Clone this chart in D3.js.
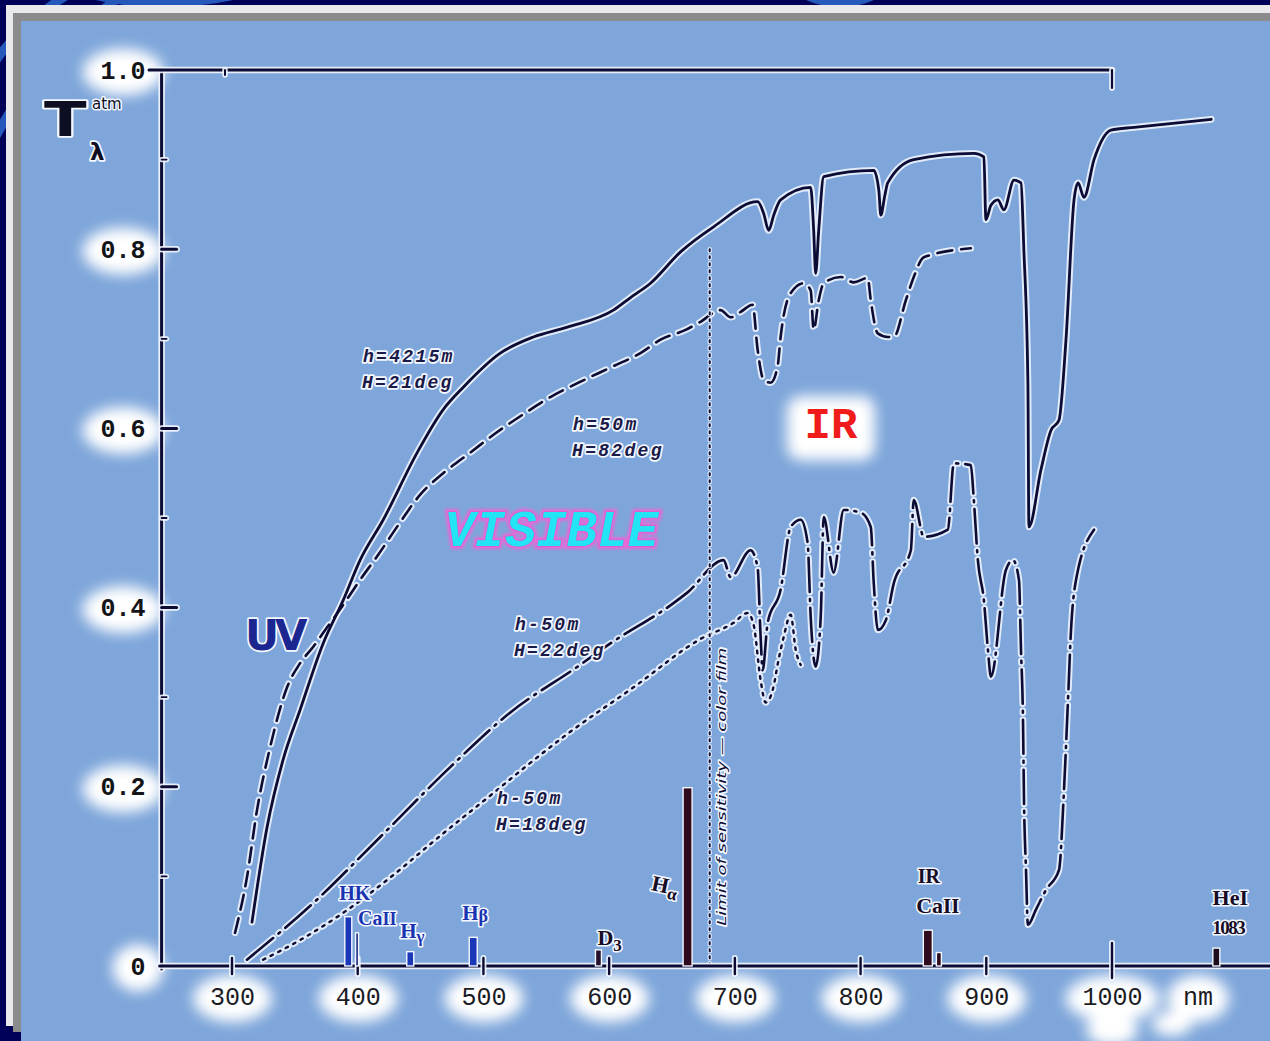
<!DOCTYPE html>
<html>
<head>
<meta charset="utf-8">
<script src="https://cdn.jsdelivr.net/npm/d3@7/dist/d3.min.js"></script>
<style>
html, body { margin: 0; padding: 0; background: #000058; overflow: hidden; }
svg { display: block; }
</style>
</head>
<body>
<svg id="chart" width="1270" height="1041"></svg>
<script>
// ---- Axis ticks ----
const xTicks = [300, 400, 500, 600, 700, 800, 900, 1000];
const yTicks = [0, 0.2, 0.4, 0.6, 0.8, 1.0];
const yTickLabels = ["0", "0.2", "0.4", "0.6", "0.8", "1.0"];
const yMinorTicks = [0.1, 0.3, 0.5, 0.7, 0.9];

// ---- Atmospheric transmission, [wavelength nm, T] ----
// h=4215m, H=21deg (solid)
const trHigh21 = [[315.9,0.049],[327.9,0.155],[340.6,0.230],[354.2,0.286],[372.5,0.360],[388.4,0.408],[401.9,0.453],[420.3,0.498],[447.3,0.573],[468.0,0.621],[484.0,0.646],[513.4,0.684],[539.7,0.702],[566.8,0.713],[603.4,0.732],[617.0,0.746],[632.9,0.762],[656.8,0.797],[683.1,0.825],[718.1,0.853],[722.9,0.840],[726.9,0.821],[730.9,0.838],[736.4,0.855],[760.3,0.869],[762.7,0.821],[764.3,0.773],[766.7,0.821],[770.7,0.881],[810.5,0.888],[814.5,0.866],[816.1,0.838],[819.3,0.860],[821.6,0.874],[842.3,0.900],[890.1,0.907],[898.1,0.903],[899.7,0.833],[903.7,0.849],[909.2,0.855],[914.0,0.844],[922.0,0.877],[927.6,0.874],[929.9,0.799],[933.1,0.651],[933.9,0.490],[943.5,0.554],[951.5,0.598],[957.8,0.609],[963.4,0.699],[969.8,0.855],[973.0,0.874],[977.7,0.858],[985.7,0.900],[999.2,0.933],[1017.6,0.936],[1078.9,0.945]];
// h=50m, H=82deg (dashed)
const trLow82 = [[302.4,0.037],[311.9,0.099],[319.9,0.174],[330.3,0.244],[343.8,0.311],[354.2,0.338],[364.5,0.356],[375.7,0.378],[388.4,0.403],[401.9,0.431],[416.3,0.459],[432.2,0.492],[449.7,0.526],[468.0,0.550],[489.5,0.573],[511.0,0.596],[530.9,0.615],[553.3,0.635],[575.6,0.651],[602.6,0.669],[624.9,0.684],[640.9,0.699],[660.8,0.710],[672.7,0.719],[688.6,0.732],[696.6,0.724],[704.6,0.730],[714.1,0.738],[718.1,0.688],[722.9,0.654],[728.5,0.651],[734.0,0.669],[736.4,0.702],[744.4,0.751],[754.7,0.762],[760.3,0.754],[762.7,0.710],[766.7,0.743],[770.7,0.762],[784.2,0.769],[794.6,0.763],[805.7,0.768],[808.1,0.743],[813.7,0.706],[821.6,0.702],[826.4,0.702],[836.0,0.743],[842.3,0.769],[850.3,0.791],[887.7,0.801]];
// h=50m, H=22deg (dash-dot)
const trLow22 = [[311.9,0.007],[364.5,0.070],[417.9,0.144],[473.6,0.222],[521.4,0.283],[574.8,0.334],[601.0,0.360],[651.2,0.405],[662.4,0.417],[691.0,0.453],[696.6,0.434],[712.5,0.464],[718.1,0.445],[720.5,0.367],[722.1,0.330],[726.1,0.383],[736.4,0.420],[744.4,0.490],[752.4,0.498],[757.9,0.472],[760.3,0.390],[764.3,0.334],[768.3,0.390],[770.7,0.501],[778.6,0.439],[786.6,0.509],[800.1,0.506],[808.1,0.490],[810.5,0.427],[813.7,0.375],[820.1,0.386],[826.4,0.427],[840.0,0.464],[842.3,0.520],[850.3,0.479],[869.4,0.487],[874.2,0.561],[887.7,0.559],[890.1,0.520],[893.3,0.453],[898.1,0.408],[901.3,0.353],[903.7,0.323],[915.6,0.442],[921.2,0.453],[926.0,0.431],[927.6,0.353],[929.2,0.275],[930.0,0.185],[931.6,0.107],[933.1,0.046],[939.5,0.063],[947.5,0.085],[957.8,0.107],[961.8,0.196],[965.0,0.297],[967.4,0.375],[971.4,0.431],[985.7,0.487]];
// h=50m, H=18deg (dotted)
const trLow18 = [[324.7,0.007],[354.2,0.029],[386.0,0.057],[423.4,0.096],[468.0,0.148],[507.9,0.193],[534.9,0.224],[566.8,0.259],[619.4,0.311],[672.7,0.365],[699.0,0.383],[710.1,0.394],[714.9,0.381],[720.5,0.319],[724.5,0.294],[730.1,0.308],[734.8,0.342],[738.8,0.367],[744.4,0.392],[748.4,0.353],[752.4,0.336]];

const curveNames = [["h=4215m", "H=21deg"], ["h=50m", "H=82deg"], ["h-50m", "H=22deg"], ["h-50m", "H=18deg"]];

// ---- Spectral lines along the wavelength axis ----
const lineIds = ["K", "H", "Hγ", "Hβ", "D3", "Hα", "CaII 8542", "CaII 8662", "HeI"];
const lineNm = [392.5, 399.5, 441.8, 491.9, 591.5, 662.4, 853.5, 862.3, 1083];
const lineHeight = [0.055, 0.037, 0.016, 0.032, 0.018, 0.199, 0.040, 0.015, 0.020];

// Colour-film sensitivity limit
const filmLimitNm = 680;
const filmLimitTop = 0.80;

// ================= drawing =================
const W = 1270, H = 1041;
const svg = d3.select("#chart");
const x = d3.scaleLinear().domain([300, 1000]).range([232, 1112]);
const y = d3.scaleLinear().domain([0, 1]).range([966, 70]);
const axisStartNm = 244, axisEndNm = 1140, frameStartNm = 234;
const X0 = x(axisStartNm);

const INK = "#0b0b34";
const HALO = "#f3f7ff";

const defs = svg.append("defs");
defs.append("filter").attr("id", "glow")
  .attr("x", "-50%").attr("y", "-50%").attr("width", "200%").attr("height", "200%")
  .append("feGaussianBlur").attr("stdDeviation", 7);
defs.append("filter").attr("id", "pink")
  .attr("x", "-20%").attr("y", "-40%").attr("width", "140%").attr("height", "180%")
  .append("feGaussianBlur").attr("stdDeviation", 1.8);

// slide frame
svg.append("rect").attr("width", W).attr("height", H).attr("fill", "#000058");
const swirl = svg.append("g").attr("fill", "none").attr("stroke", "#2c68cc").attr("stroke-width", 9).attr("opacity", 0.85);
swirl.append("path").attr("d", "M-30,110 Q0,30 80,-12");
swirl.append("path").attr("d", "M-30,200 Q10,70 130,-10");
swirl.append("path").attr("d", "M90,-6 Q160,12 240,-6");
swirl.append("path").attr("d", "M800,-8 Q840,14 880,-8");
svg.append("rect").attr("x", 6).attr("y", 5).attr("width", W - 6).attr("height", 1021).attr("fill", "#e9e9eb");
svg.append("rect").attr("x", 13).attr("y", 13).attr("width", W - 13).attr("height", 1019).attr("fill", "#8b8b8e");
svg.append("rect").attr("x", 21).attr("y", 21).attr("width", W - 21).attr("height", H - 21).attr("fill", "#7ea6da");

const glowLayer = svg.append("g").attr("filter", "url(#glow)");
function addGlow(node, padX, padY) {
  const b = node.getBoundingClientRect();
  glowLayer.append("ellipse")
    .attr("cx", b.x + b.width / 2).attr("cy", b.y + b.height / 2)
    .attr("rx", b.width / 2 + padX).attr("ry", b.height / 2 + padY)
    .attr("fill", "#fff");
}

// drawing helper: dark ink line with a pale outline
function inkLine(g, x1, y1, x2, y2, w) {
  g.append("line").attr("x1", x1).attr("y1", y1).attr("x2", x2).attr("y2", y2)
    .attr("stroke", HALO).attr("stroke-width", w + 3.5).attr("stroke-linecap", "round").attr("opacity", 0.9);
  g.append("line").attr("x1", x1).attr("y1", y1).attr("x2", x2).attr("y2", y2)
    .attr("stroke", INK).attr("stroke-width", w).attr("stroke-linecap", "round");
}

// ---- transmission curves ----
const line = d3.line().x(d => x(d[0])).y(d => y(d[1])).curve(d3.curveMonotoneX);
const series = [
  { data: trHigh21, dash: null, w: 2.8 },
  { data: trLow82, dash: "15 9", w: 2.6 },
  { data: trLow22, dash: "34 7 2 7", w: 2.6 },
  { data: trLow18, dash: "2.5 6", w: 2.4 }
];
const curveHalo = svg.append("g");
const curveInk = svg.append("g");
series.forEach(s => {
  curveHalo.append("path").attr("d", line(s.data)).attr("fill", "none")
    .attr("stroke", HALO).attr("stroke-width", s.w + 4).attr("stroke-linecap", "round")
    .attr("stroke-linejoin", "round").attr("opacity", 0.85)
    .attr("stroke-dasharray", s.dash);
  curveInk.append("path").attr("d", line(s.data)).attr("fill", "none")
    .attr("stroke", INK).attr("stroke-width", s.w).attr("stroke-linecap", "round")
    .attr("stroke-linejoin", "round")
    .attr("stroke-dasharray", s.dash);
});

// ---- film sensitivity limit ----
const film = svg.append("g");
film.append("line").attr("x1", x(filmLimitNm)).attr("x2", x(filmLimitNm))
  .attr("y1", y(filmLimitTop)).attr("y2", y(0))
  .attr("stroke", HALO).attr("stroke-width", 4.5).attr("stroke-dasharray", "2 5").attr("stroke-linecap", "round").attr("opacity", 0.8);
film.append("line").attr("x1", x(filmLimitNm)).attr("x2", x(filmLimitNm))
  .attr("y1", y(filmLimitTop)).attr("y2", y(0))
  .attr("stroke", INK).attr("stroke-width", 2).attr("stroke-dasharray", "2 5").attr("stroke-linecap", "round");
film.append("text")
  .attr("transform", `translate(${x(filmLimitNm) + 16},${y(0.045)}) rotate(-90)`)
  .attr("font-family", "DejaVu Sans Condensed, DejaVu Sans, sans-serif")
  .attr("font-size", 13).attr("font-style", "italic")
  .attr("textLength", 278).attr("lengthAdjust", "spacingAndGlyphs")
  .attr("fill", INK).attr("stroke", HALO).attr("stroke-width", 2.6)
  .attr("paint-order", "stroke").attr("stroke-linejoin", "round")
  .text("Limit of sensitivity — color film");

// ---- axes ----
const axes = svg.append("g");
// frame: left axis, top rule, bottom axis
inkLine(axes, X0, y(1), X0, y(0) + 3, 3);
inkLine(axes, x(frameStartNm), y(1), x(1000), y(1), 3);
inkLine(axes, X0 - 2, y(0), x(axisEndNm), y(0), 3);
// top rule: end tick at 1000 nm, faint mark at 300 nm
inkLine(axes, x(1000), y(1), x(1000), y(1) + 18, 2.2);
inkLine(axes, x(300) - 7, y(1), x(300) - 7, y(1) + 5, 2);
// bottom ticks crossing the axis
xTicks.forEach(v => inkLine(axes, x(v), y(0) - (v === 1000 ? 23 : 8), x(v), y(0) + (v === 1000 ? 12 : 8), 2.4));
// y ticks on the inside
yTicks.forEach(v => { if (v > 0 && v < 1) inkLine(axes, X0, y(v), X0 + 15, y(v), 3); });
yMinorTicks.forEach(v => inkLine(axes, X0, y(v), X0 + 5, y(v), 1.8));

const monoFont = "Liberation Mono, DejaVu Sans Mono, monospace";
const gx = svg.append("g").attr("transform", `translate(0,${y(0)})`)
  .call(d3.axisBottom(x).tickValues(xTicks).tickFormat(d3.format("d")).tickSize(0).tickPadding(0));
gx.select(".domain").remove();
gx.attr("font-family", null).attr("font-size", null);
gx.selectAll(".tick text").attr("y", 39).attr("dy", null)
  .attr("font-family", monoFont).attr("font-size", 25).attr("fill", "#1b1b24");

const gy = svg.append("g").attr("transform", `translate(${X0},0)`)
  .call(d3.axisLeft(y).tickValues(yTicks).tickFormat((d, i) => yTickLabels[i]).tickSize(0).tickPadding(16));
gy.select(".domain").remove();
gy.attr("font-family", null).attr("font-size", null);
gy.selectAll(".tick text").attr("font-family", monoFont).attr("font-size", 25)
  .attr("font-weight", "bold").attr("fill", "#141418").attr("dy", "0.32em");

const nm = svg.append("text").attr("x", x(1000) + 71).attr("y", y(0) + 39)
  .attr("font-family", monoFont).attr("font-size", 25).attr("fill", "#1b1b24").text("nm");

gx.selectAll(".tick text").each(function () { addGlow(this, 17, 9); });
gy.selectAll(".tick text").each(function () { addGlow(this, 18, 9); });
addGlow(nm.node(), 16, 9);
glowLayer.append("ellipse").attr("cx", x(1000)).attr("cy", y(0) + 64).attr("rx", 26).attr("ry", 16).attr("fill", "#fff");
glowLayer.append("ellipse").attr("cx", x(1000) + 60).attr("cy", y(0) + 58).attr("rx", 20).attr("ry", 12).attr("fill", "#fff");

// ---- spectral lines ----
const lineWidth = { "K": 7, "H": 3, "Hγ": 7, "Hβ": 8, "D3": 6, "Hα": 9, "CaII 8542": 9, "CaII 8662": 5, "HeI": 7 };
const lineColor = { "K": "#1a37b8", "H": "#1a2a80", "Hγ": "#1a37b8", "Hβ": "#1a37b8", "D3": "#24102c", "Hα": "#2e0a1c", "CaII 8542": "#2e0a1c", "CaII 8662": "#2e0a1c", "HeI": "#1c0c1c" };
const bars = svg.append("g");
lineIds.forEach((id, i) => {
  const w = lineWidth[id];
  bars.append("rect")
    .attr("x", x(lineNm[i]) - w / 2).attr("y", y(lineHeight[i]))
    .attr("width", w).attr("height", y(0) - y(lineHeight[i]))
    .attr("fill", lineColor[id]).attr("stroke", HALO).attr("stroke-width", 1.4);
});

// labels for the spectral lines
const lab = svg.append("g").attr("font-family", "Liberation Serif, DejaVu Serif, serif")
  .attr("font-weight", "bold").attr("stroke", HALO).attr("stroke-width", 3.2)
  .attr("paint-order", "stroke").attr("stroke-linejoin", "round");
function lineLabel(nmVal, dx, dyPx, parts, color, size, anchor) {
  const t = lab.append("text").attr("x", x(nmVal) + dx).attr("y", y(0) - dyPx)
    .attr("fill", color).attr("font-size", size).attr("text-anchor", anchor || "start");
  parts.forEach(p => t.append("tspan").attr("font-size", p.s || null).attr("dy", p.dy || null).text(p.t));
  return t;
}
const blue = "#1a34b0", dark = "#160c26";
lineLabel(lineNm[0], -9, 66, [{ t: "HK" }], blue, 20);
lineLabel(lineNm[1], 1, 41, [{ t: "Ca" }, { t: "II", s: 18 }], blue, 20);
lineLabel(lineNm[2], -10, 28, [{ t: "H" }, { t: "γ", s: 17, dy: 4 }], blue, 21);
lineLabel(lineNm[3], -11, 46, [{ t: "H" }, { t: "β", s: 18, dy: 2 }], blue, 21);
lineLabel(lineNm[4], -1, 21, [{ t: "D" }, { t: "3", s: 17, dy: 6 }], dark, 22);
lab.append("text").attr("transform", `translate(${x(lineNm[5]) - 37},${y(0) - 76}) rotate(12)`)
  .attr("fill", dark).attr("font-size", 22)
  .call(t => { t.append("tspan").text("H"); t.append("tspan").attr("font-size", 17).attr("dy", 5).text("α"); });
lineLabel(lineNm[6], 1, 83, [{ t: "IR" }], dark, 20, "middle");
lineLabel(lineNm[6], 10, 53, [{ t: "Ca" }, { t: "II", s: 21 }], dark, 22, "middle");
lineLabel(lineNm[8], 14, 61, [{ t: "HeI" }], dark, 22, "middle");
lineLabel(lineNm[8], 12, 32, [{ t: "1083" }], dark, 19, "middle").attr("letter-spacing", -1.5);

// ---- curve annotations ----
const ann = svg.append("g").attr("font-family", monoFont).attr("font-weight", "bold")
  .attr("font-style", "italic").attr("font-size", 18).attr("letter-spacing", 2.3)
  .attr("fill", "#1a1a48").attr("stroke", HALO).attr("stroke-width", 3.5)
  .attr("paint-order", "stroke").attr("stroke-linejoin", "round");
const annAt = [[404.2, 0.674], [571.3, 0.598], [525.1, 0.375], [510.8, 0.181]];
curveNames.forEach((pair, i) => {
  ann.append("text").attr("x", x(annAt[i][0])).attr("y", y(annAt[i][1])).text(pair[0]);
  ann.append("text").attr("x", x(annAt[i][0]) - 1).attr("y", y(annAt[i][1]) + 26).text(pair[1]);
});

// ---- region names ----
// VISIBLE
svg.append("text").attr("x", x(554)).attr("y", y(0.469)).attr("text-anchor", "middle")
  .attr("font-family", monoFont).attr("font-weight", "bold").attr("font-style", "italic")
  .attr("font-size", 51).attr("fill", "none").attr("stroke", "#e868d8").attr("stroke-width", 6)
  .attr("filter", "url(#pink)").text("VISIBLE");
svg.append("text").attr("x", x(554)).attr("y", y(0.469)).attr("text-anchor", "middle")
  .attr("font-family", monoFont).attr("font-weight", "bold").attr("font-style", "italic")
  .attr("font-size", 51).attr("fill", "#22e4f4").attr("stroke", "#d85ccc").attr("stroke-width", 1.5)
  .attr("paint-order", "stroke").text("VISIBLE");

// IR on a soft white patch
const irG = svg.append("g");
irG.append("rect").attr("x", x(776.5) - 44).attr("y", y(0.589) - 42).attr("width", 88).attr("height", 64)
  .attr("rx", 14).attr("fill", "#fff").attr("filter", "url(#glow)");
irG.append("text").attr("x", x(776.5)).attr("y", y(0.589)).attr("text-anchor", "middle")
  .attr("font-family", monoFont).attr("font-weight", "bold").attr("font-size", 44)
  .attr("fill", "#f01c1c").text("IR");

// UV
svg.append("text").attr("x", x(310.3)).attr("y", y(0.353))
  .attr("font-family", "DejaVu Sans, sans-serif").attr("font-weight", "bold").attr("font-size", 42)
  .attr("letter-spacing", -4).attr("fill", "#1b2690").attr("stroke", HALO).attr("stroke-width", 3.5)
  .attr("paint-order", "stroke").attr("stroke-linejoin", "round").text("UV");

// ---- y-axis title: T (lambda) atm ----
const ttl = svg.append("g").attr("fill", "#0e0e22").attr("stroke", HALO).attr("stroke-width", 3.5)
  .attr("paint-order", "stroke").attr("stroke-linejoin", "round")
  .attr("font-family", "DejaVu Sans, sans-serif").attr("font-weight", "bold");
ttl.append("text").attr("transform", "translate(44,136) scale(1.3,1)").attr("font-size", 48).text("T");
ttl.append("text").attr("x", 92).attr("y", 109).attr("font-size", 15).attr("font-weight", "normal")
  .attr("stroke-width", 3).text("atm");
ttl.append("text").attr("x", 90).attr("y", 160).attr("font-size", 23).text("λ");
</script>
</body>
</html>
